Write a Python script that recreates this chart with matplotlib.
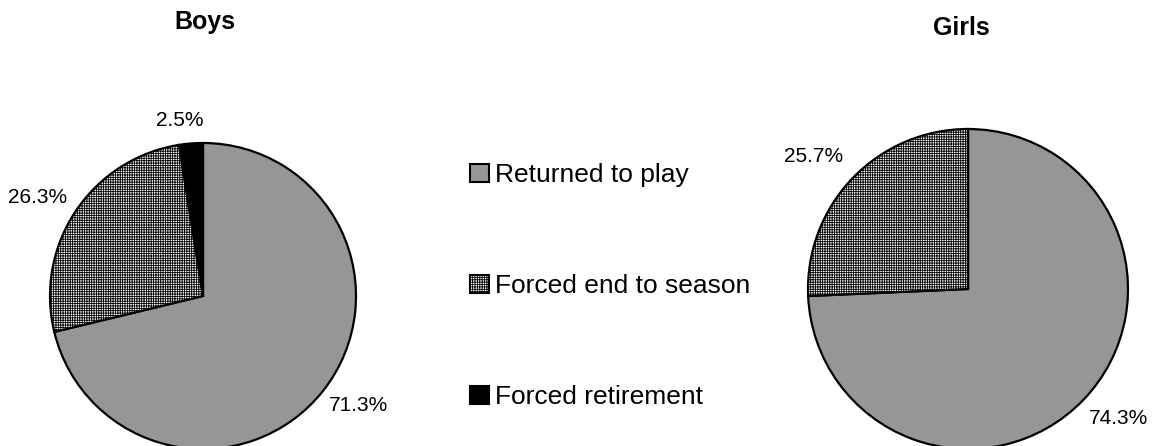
import numpy as np
import matplotlib.pyplot as plt
from matplotlib.patches import Patch

plt.rcParams['font.family'] = ['Liberation Sans', 'DejaVu Sans']
plt.rcParams['hatch.linewidth'] = 0.6

categories = ['Returned to play', 'Forced end to season', 'Forced retirement']
boys = [71.3, 26.3, 2.5]
girls = [74.3, 25.7, 0.0]

colors = ['#969696', 'white', 'black']
hatches = ['', '+++++++', '']

W, H = 1157, 446
fig = plt.figure(figsize=(W / 100, H / 100), dpi=100)


def draw_pie(vals, cx, cy, r, title, tx, ty, dists):
    ax = fig.add_axes([(cx - r) / W, (H - cy - r) / H, 2 * r / W, 2 * r / H])
    total = sum(vals)
    wedges, texts, autotexts = ax.pie(
        vals, colors=colors, startangle=90, counterclock=False,
        autopct=lambda p: f"{p * total / 100:.1f}%" if p > 0 else '',
        pctdistance=1.25,
        wedgeprops=dict(edgecolor='black', linewidth=1.6),
        textprops=dict(fontsize=15))
    for w, h, t, d in zip(wedges, hatches, autotexts, dists):
        w.set_hatch(h)
        w.set_clip_on(False)
        # label a bit off the wedge middle, like the original
        ang = np.deg2rad((w.theta1 + w.theta2) / 2 + 3)
        t.set_position((d * np.cos(ang), d * np.sin(ang)))
    ax.set_xlim(-1, 1)
    ax.set_ylim(-1, 1)
    ax.set_aspect('equal')
    ax.axis('off')
    fig.text(tx / W, 1 - ty / H, title, fontsize=18, fontweight='bold',
             ha='center', va='center')


draw_pie(boys, 203, 296, 153, 'Boys', 205, 22, [1.24, 1.26, 1.16])
draw_pie(girls, 968, 289, 160, 'Girls', 961, 28, [1.24, 1.27, 1.2])

handles = [Patch(facecolor=c, edgecolor='black', hatch=h, linewidth=1.5)
           for c, h in zip(colors, hatches)]
fig.legend(handles, categories, loc='upper left',
           bbox_to_anchor=(457 / W, 1 - 150 / H), frameon=False,
           fontsize=19, handlelength=0.7, handleheight=0.7,
           handletextpad=0.25, labelspacing=3.3, borderpad=0)

fig.savefig('out.png', dpi=100)
